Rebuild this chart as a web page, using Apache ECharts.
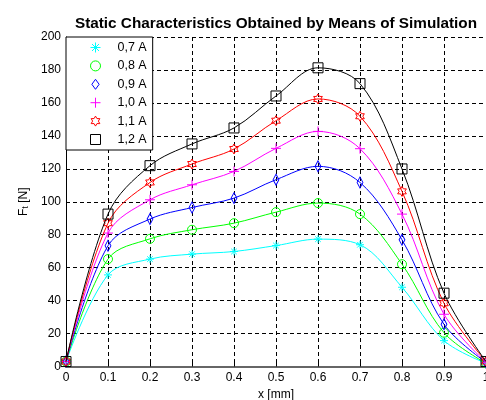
<!DOCTYPE html>
<html>
<head>
<meta charset="utf-8">
<script src="https://cdn.jsdelivr.net/npm/echarts@6/dist/echarts.min.js"></script>
<style>
html,body{margin:0;padding:0;background:#fff;}
#chart{width:486px;height:400px;}
</style>
</head>
<body>
<div id="chart"></div>
<script>
// ---- data ----
const titleText = 'Static Characteristics Obtained by Means of Simulation';
const xValues = [0, 0.1, 0.2, 0.3, 0.4, 0.5, 0.6, 0.7, 0.8, 0.9, 1.0];
const xTickLabels = ['0', '0.1', '0.2', '0.3', '0.4', '0.5', '0.6', '0.7', '0.8', '0.9', '1'];
const yTickLabels = ['0', '20', '40', '60', '80', '100', '120', '140', '160', '180', '200'];
const seriesNames = ['0,7 A', '0,8 A', '0,9 A', '1,0 A', '1,1 A', '1,2 A'];
const s07 = [3, 55.6, 65.2, 68.2, 69.8, 73.4, 77.3, 73.9, 48.1, 15.7, 2];
const s08 = [3, 65.2, 77.5, 83.0, 87.0, 93.7, 99.2, 92.5, 62.1, 20.5, 2];
const s09 = [3, 73.3, 89.5, 96.5, 102.2, 113.4, 121.5, 111.7, 76.9, 25.6, 2.5];
const s10 = [3, 81.0, 101.2, 110.3, 118.4, 132.4, 142.7, 132.2, 92.5, 31.7, 2.5];
const s11 = [3, 87.0, 111.7, 122.9, 132.0, 149.2, 162.4, 151.9, 106.3, 38.4, 3];
const s12 = [3, 92.5, 121.9, 135.1, 144.8, 164.2, 181.3, 171.7, 119.9, 44.5, 3];
const seriesValues = [s07, s08, s09, s10, s11, s12];

// ---- styles ----
const colors = ['#00ffff', '#00ff00', '#0000ff', '#ff00ff', '#ff0000', '#000000'];
const symAsterisk = 'path://M0,5L10,5M5,0L5,10M1.5,1.5L8.5,8.5M8.5,1.5L1.5,8.5';
const symCircle = 'path://M10,5A5,5,0,1,1,0,5A5,5,0,1,1,10,5Z';
const symDiamond = 'path://M4,0L8,5.5L4,11L0,5.5Z';
const symPlus = 'path://M0,5L10,5M5,0L5,10';
const symHex = 'path://M10,0L7.115,5L1.34,5L4.23,10L1.34,15L7.115,15L10,20L12.885,15L18.66,15L15.77,10L18.66,5L12.885,5Z';
const symSquare = 'path://M0,0L10,0L10,10L0,10Z';
const symbols = [symAsterisk, symCircle, symDiamond, symPlus, symHex, symSquare];
const symSizes = [8, 9, [8, 11], 10, 10, 10];

const FONT = 'Liberation Sans, Arial, sans-serif';

const chart = echarts.init(document.getElementById('chart'), null, {renderer: 'canvas'});

const series = seriesNames.map((name, i) => ({
  name: name,
  type: 'line',
  data: xValues.map((x, j) => [x, seriesValues[i][j]]),
  smooth: 0.35,
  symbol: symbols[i],
  symbolSize: symSizes[i],
  symbolKeepAspect: true,
  showAllSymbol: true,
  clip: false,
  lineStyle: {color: colors[i], width: 1},
  itemStyle: {color: 'rgba(0,0,0,0)', borderColor: colors[i], borderWidth: 1},
  emphasis: {disabled: true},
  z: 2 + i
}));

const option = {
  animation: false,
  backgroundColor: '#ffffff',
  title: {
    text: titleText,
    left: 271,
    textAlign: 'center',
    top: 11,
    textStyle: {fontFamily: FONT, fontSize: 15.3, fontWeight: 'bold', color: '#000'}
  },
  legend: {
    orient: 'vertical',
    left: 66,
    top: 37,
    padding: [4, 6, 4, 24],
    itemWidth: 10,
    itemHeight: 10,
    itemGap: 5.4,
    backgroundColor: '#ffffff',
    borderColor: '#000000',
    borderWidth: 1,
    borderRadius: 0,
    itemStyle: {borderWidth: 1},
    data: seriesNames.map((n, i) => ({name: n, icon: symbols[i]})),
    textStyle: {fontFamily: FONT, fontSize: 12.5, color: '#000', padding: [0, 0, 0, 12]},
    selectedMode: false,
    z: 10
  },
  grid: {left: 66, right: 0, top: 37, bottom: 33.5, containLabel: false, outerBoundsMode: 'none'},
  xAxis: {
    type: 'value',
    min: 0, max: 1, interval: 0.1,
    name: 'x [mm]',
    nameLocation: 'middle',
    nameGap: 20,
    nameTextStyle: {fontFamily: FONT, fontSize: 12, color: '#000'},
    axisLine: {show: true, onZero: false, lineStyle: {color: '#666', width: 2}},
    axisTick: {show: true, inside: true, length: 4, lineStyle: {color: '#000'}},
    axisLabel: {
      fontFamily: FONT, fontSize: 12, color: '#000', margin: 5,
      formatter: v => xTickLabels[Math.round(v * 10)]
    },
    splitLine: {show: true, lineStyle: {color: '#000', type: [4, 3], width: 1}}
  },
  yAxis: {
    type: 'value',
    min: 0, max: 200, interval: 20,
    name: '{f|F}{s|t}{f| [N]}',
    nameLocation: 'middle',
    nameGap: 32,
    nameTextStyle: {
      fontFamily: FONT, fontSize: 12, color: '#000',
      rich: {
        f: {fontFamily: FONT, fontSize: 12, color: '#000'},
        s: {fontFamily: FONT, fontSize: 9, color: '#000', lineHeight: 9, padding: [10, 0, 0, 0], verticalAlign: 'bottom'}
      }
    },
    axisLine: {show: true, lineStyle: {color: '#000', width: 1}},
    axisTick: {show: true, inside: true, length: 4, lineStyle: {color: '#000'}},
    axisLabel: {
      fontFamily: FONT, fontSize: 12, color: '#000', margin: 5,
      formatter: v => yTickLabels[Math.round(v / 20)]
    },
    splitLine: {show: true, lineStyle: {color: '#000', type: [4, 3], width: 1}}
  },
  series: series
};

chart.setOption(option);
</script>
</body>
</html>
